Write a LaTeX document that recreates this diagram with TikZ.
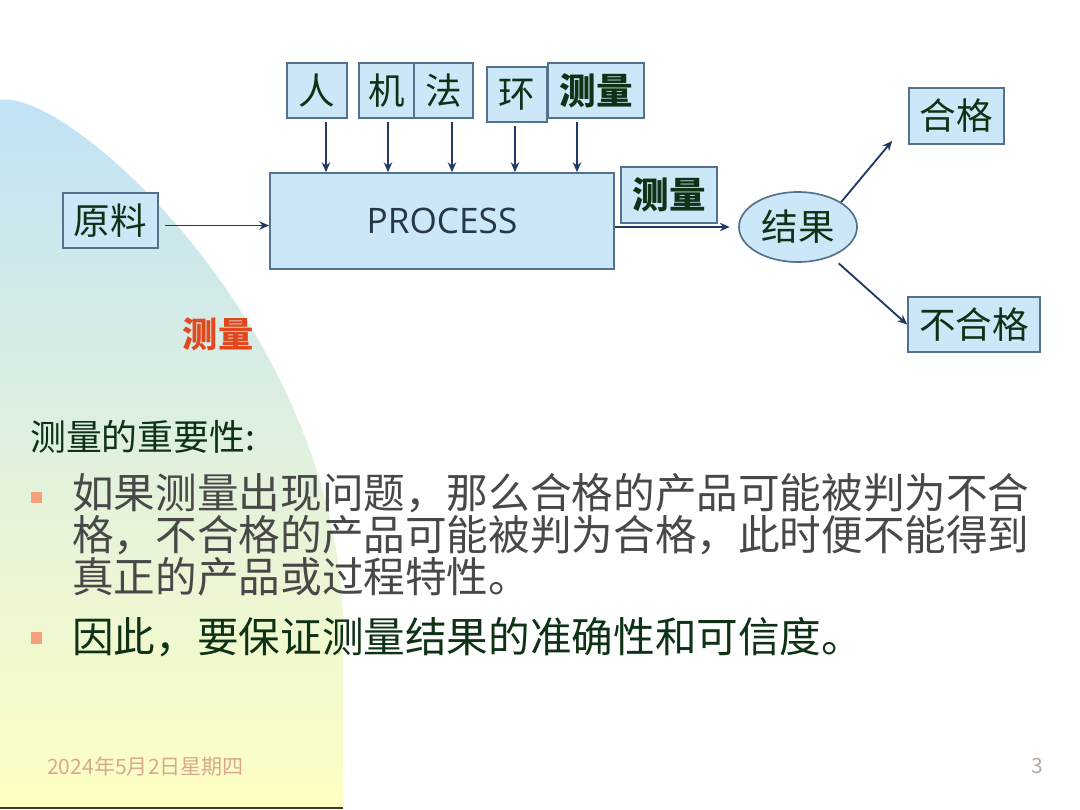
\documentclass[tikz,border=0pt]{standalone}
\usepackage{fontspec}
\setmainfont{Noto Sans CJK SC}
\newfontfamily\latinsf{Open Sans}
\usetikzlibrary{arrows.meta,calc,positioning,shapes.geometric}
\definecolor{boxfill}{RGB}{204,232,248}
\definecolor{boxline}{RGB}{84,114,142}
\definecolor{arrowc}{RGB}{31,56,100}
\definecolor{txtgreen}{RGB}{14,50,22}
\definecolor{txtgray}{RGB}{72,72,72}
\definecolor{redtxt}{RGB}{226,72,30}
\definecolor{bulletc}{RGB}{244,160,124}
\definecolor{bgblue}{RGB}{192,226,247}
\definecolor{bgmid}{RGB}{224,243,224}
\definecolor{bgyellow}{RGB}{255,255,196}
\definecolor{datec}{RGB}{216,170,140}
\definecolor{pagec}{RGB}{184,168,152}
\definecolor{proctxt}{RGB}{38,55,70}
\tikzset{pin/.style={draw=arrowc, line width=1.3pt, -{Stealth[length=7pt,width=6pt]}},
  blk/.style={draw=boxline, line width=1.2pt, fill=boxfill, text=txtgreen, inner sep=0pt,
    font=\fontsize{26}{26}\selectfont},
  bul/.style={fill=bulletc, minimum size=0.28cm, inner sep=0pt}}

\begin{document}
\begin{tikzpicture}[x=0.025cm, y=-0.025cm]
  \useasboundingbox (0,0) rectangle (1080,810);
  % background
  \shade[top color=bgblue, middle color=bgmid, bottom color=bgyellow]
    (0,100) .. controls (70,88) and (335,330) .. (343,620) -- (343,808) -- (0,808) -- cycle;
  \draw[line width=1.5pt, color={rgb,255:red,60;green,60;blue,30}] (0,808) -- (343,808);
  % inputs
  \node[blk, minimum width=1.5cm, minimum height=1.375cm] (ren) at (317,90.5) {人};
  \node[blk, minimum width=1.375cm, minimum height=1.375cm] (ji) at (386.5,90.5) {机};
  \node[blk, minimum width=1.475cm, minimum height=1.375cm] (fa) at (443.5,90.5) {法};
  \node[blk, minimum width=1.5cm, minimum height=1.375cm] (huan) at (517,94.5) {环};
  \node[blk, minimum width=2.4cm, minimum height=1.375cm, font=\fontsize{26}{26}\selectfont\bfseries] (cl1) at (596,90.5) {测量};
  % process
  \node[blk, minimum width=8.6cm, minimum height=2.4cm, text=proctxt, font=\latinsf\fontsize{25}{25}\selectfont] (proc) at (442,221) {PROCESS};
  \foreach \b/\dx in {ren/9, ji/1.5, fa/8.5, huan/-2, cl1/-19}{
    \coordinate (s\b) at ($(\b.south)+(\dx,3)$);
    \draw[pin] (s\b) -- (s\b |- proc.north);
  }
  \node[blk, minimum width=2.375cm, minimum height=1.375cm] (yl) at (110.5,220.5) {原料};
  \coordinate (yo) at ($(yl.east)+(6,5)$);
  \draw[pin] (yo) -- (yo -| proc.west);
  % result
  \node[blk, minimum width=2.4cm, minimum height=1.4cm, font=\fontsize{26}{26}\selectfont\bfseries] (cl2) at (669,195) {测量};
  \node[blk, ellipse, minimum width=2.95cm, minimum height=1.75cm] (jg) at (798,227) {结果};
  \draw[pin, shorten >=6pt] (proc.east |- jg.west) -- (jg.west);
  \node[blk, minimum width=2.375cm, minimum height=1.4cm] (hg) at (956.5,116) {合格};
  \node[blk, minimum width=3.3cm, minimum height=1.375cm] (bhg) at (974,324.5) {不合格};
  \draw[pin] (jg.30) -- ($(hg.south west)+(-16,-4)$);
  \draw[pin, shorten <=7pt] (jg) -- (bhg.west);
  % text
  \node[font=\fontsize{25}{25}\selectfont\bfseries, text=redtxt] (cl3) at (218,334) {测量};
  \node[anchor=west, inner sep=0pt, text=txtgreen, font=\fontsize{25.5}{26}\selectfont] (imp) at (30,437) {测量的重要性:};
  \node[bul] (q1) at (36.5,497.5) {};
  \node[anchor=north west, inner sep=0pt, align=left, text=txtgray, font=\fontsize{29.6}{29.8}\selectfont] (t1) at (72,473)
    {如果测量出现问题，那么合格的产品可能被判为不合\\格，不合格的产品可能被判为合格，此时便不能得到\\真正的产品或过程特性。};
  \node[bul] (q2) at (36.5,638) {};
  \node[anchor=north west, inner sep=0pt, align=left, text=txtgreen, font=\fontsize{29.6}{29.8}\selectfont] (t2) at (72,617)
    {因此，要保证测量结果的准确性和可信度。};
  % footer
  \node[anchor=west, inner sep=0pt, text=datec, font=\fontsize{15}{15}\selectfont] (date) at (47,766) {2024年5月2日星期四};
  \node[anchor=east, inner sep=0pt, text=pagec, font=\fontsize{15}{15}\selectfont] (pg) at (1043,766) {3};
\end{tikzpicture}
\end{document}
